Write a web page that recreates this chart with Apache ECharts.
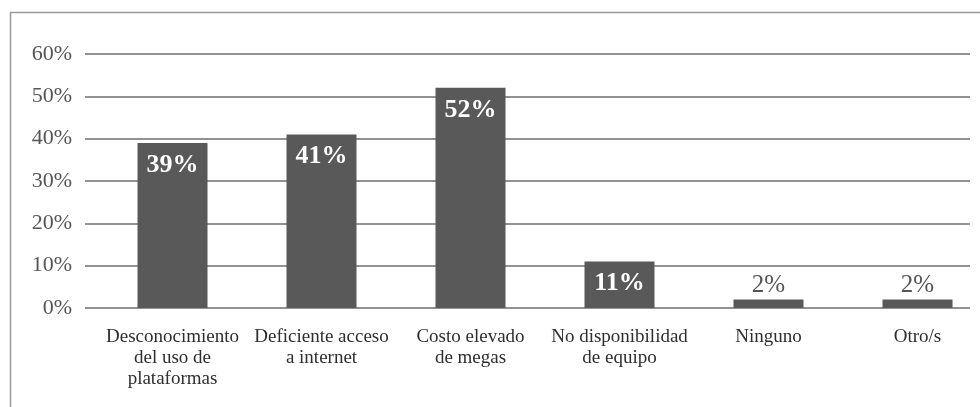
<!DOCTYPE html>
<html>
<head>
<meta charset="utf-8">
<script src="https://cdn.jsdelivr.net/npm/echarts@6/dist/echarts.min.js"></script>
<style>
  html, body { margin: 0; padding: 0; background: #fff; }
  #chart { width: 980px; height: 407px; }
</style>
</head>
<body>
<div id="chart"></div>
<script>
var categories = [
    'Desconocimiento\ndel uso de\nplataformas',
    'Deficiente acceso\na internet',
    'Costo elevado\nde megas',
    'No disponibilidad\nde equipo',
    'Ninguno',
    'Otro/s'
];
var values = [39, 41, 52, 11, 2, 2];
var yTicks = [0, 10, 20, 30, 40, 50, 60];

var serif = '"Liberation Serif", "DejaVu Serif", serif';

// bars with small values get their label above the bar
var barData = values.map(function(v){
    var inside = v >= 5;
    return {
        value: v,
        label: inside ? {
            position: 'insideTop', distance: 9, color: '#fff',
            fontWeight: 'bold', fontSize: 26
        } : {
            position: 'top', distance: 2, color: '#555',
            fontWeight: 'normal', fontSize: 25
        }
    };
});

var chart = echarts.init(document.getElementById('chart'), null, {renderer: 'canvas'});
chart.setOption({
    animation: false,
    backgroundColor: '#fff',
    graphic: [{
        type: 'rect',
        shape: {x: 10.5, y: 12.5, width: 1000, height: 420},
        style: {fill: 'none', stroke: '#9a9a9a', lineWidth: 1.5},
        silent: true
    }],
    grid: [
        {left: 85, right: 10, top: 54, bottom: 99, outerBoundsMode: 'none'},
        // bar grid runs a bit past the right edge, like the source chart
        {left: 98, width: 894, top: 54, bottom: 99, outerBoundsMode: 'none'}
    ],
    xAxis: [{
        gridIndex: 0, type: 'category', data: categories, show: false
    }, {
        gridIndex: 1, type: 'category', data: categories,
        axisLine: {show: false}, axisTick: {show: false},
        axisLabel: {
            interval: 0, margin: 19, color: '#2e2e2e',
            fontFamily: serif, fontSize: 19, lineHeight: 21, align: 'center'
        }
    }],
    yAxis: [{
        gridIndex: 0, type: 'value', min: 0, max: 60, interval: 10,
        axisLine: {show: false}, axisTick: {show: false},
        axisLabel: {
            margin: 13, color: '#555', fontFamily: serif, fontSize: 22,
            formatter: function(v){ return yTicks.indexOf(v) >= 0 ? v + '%' : ''; }
        },
        splitLine: {lineStyle: {color: '#6e6e6e', width: 1.5}}
    }, {
        gridIndex: 1, type: 'value', min: 0, max: 60, show: false
    }],
    series: [{
        type: 'bar',
        xAxisIndex: 1, yAxisIndex: 1,
        data: barData,
        barWidth: 70,
        itemStyle: {color: '#595959'},
        label: {show: true, formatter: '{c}%', fontFamily: serif}
    }]
});
</script>
</body>
</html>
